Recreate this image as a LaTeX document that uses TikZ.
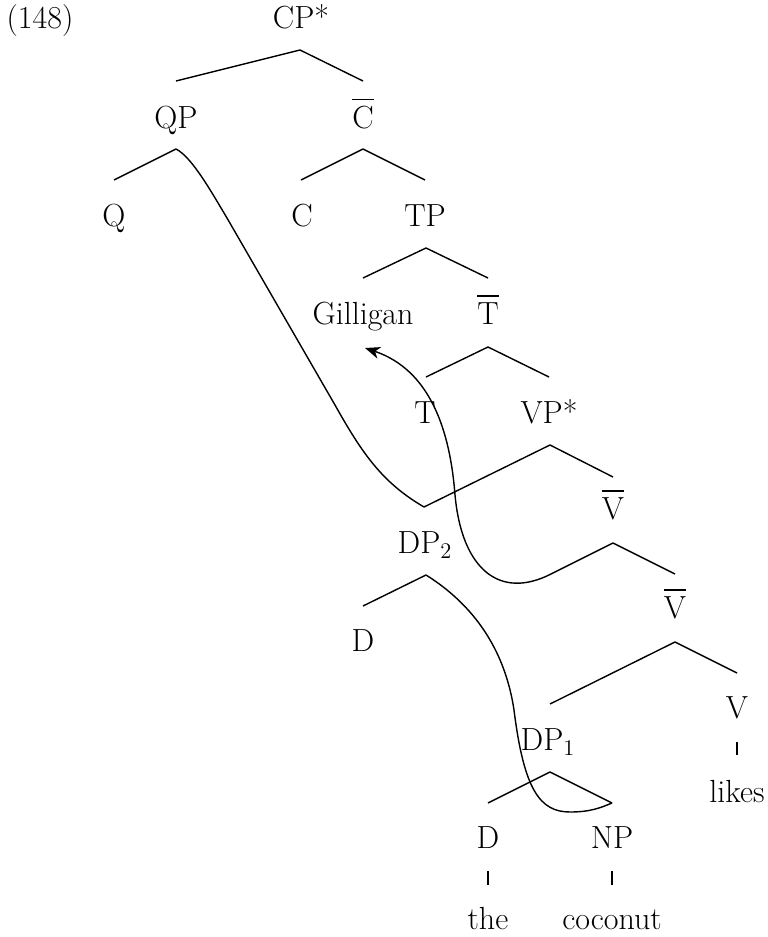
\documentclass[tikz,border=0pt]{standalone}
\usetikzlibrary{arrows.meta}
\newcommand{\treefont}{\fontsize{16}{18}\selectfont}
\newcommand{\barred}[1]{\leavevmode\vbox{\hrule height 0.9pt\kern 2.6pt\hbox{#1}}}
\begin{document}
\begin{tikzpicture}[x=0.5pt,y=-0.5pt,
  lbl/.style={anchor=base,inner sep=0pt,font=\treefont},
  branch/.style={line width=0.7pt,line join=round},
  move/.style={line width=0.7pt,line join=round,-{Stealth[length=7.5pt,width=6pt,inset=2.2pt]}}]
\useasboundingbox (0,0) rectangle (767,937);
% labels
\node[lbl] (ex) at (40,28) {(148)};
\node[lbl] (cp) at (301,28) {CP*};
\node[lbl] (qp) at (176,128) {QP};
\node[lbl] (cbar) at (363,128) {\barred{C}};
\node[lbl] (q) at (114,226) {Q};
\node[lbl] (c) at (302,226) {C};
\node[lbl] (tp) at (425,226) {TP};
\node[lbl] (gill) at (363,324) {Gilligan};
\node[lbl] (tbar) at (488,324) {\barred{T}};
\node[lbl] (t) at (425,423) {T};
\node[lbl] (vp) at (549,423) {VP*};
\node[lbl] (vbara) at (613,519) {\barred{V}};
\node[lbl] (dp2) at (425,553) {DP\textsubscript{2}};
\node[lbl] (da) at (363,651) {D};
\node[lbl] (vbarb) at (675,618) {\barred{V}};
\node[lbl] (v) at (737,718) {V};
\node[lbl] (dp1) at (548,750) {DP\textsubscript{1}};
\node[lbl] (likes) at (737,802) {likes};
\node[lbl] (db) at (488,848) {D};
\node[lbl] (np) at (612,848) {NP};
\node[lbl] (the) at (488,929) {the};
\node[lbl] (coconut) at (612,929) {coconut};
% branch points
\coordinate (cp-t) at (300,50);  \coordinate (cp-l) at (176,81);  \coordinate (cp-r) at (363,81);
\coordinate (qp-t) at (176,149); \coordinate (qp-l) at (114,180);
\coordinate (cb-t) at (363,149); \coordinate (cb-l) at (301,180); \coordinate (cb-r) at (425,180);
\coordinate (tp-t) at (426,248); \coordinate (tp-l) at (363,278); \coordinate (tp-r) at (488,278);
\coordinate (tb-t) at (488,347); \coordinate (tb-l) at (426,377); \coordinate (tb-r) at (549,377);
\coordinate (vp-t) at (550,445); \coordinate (vp-l) at (424,507); \coordinate (vp-r) at (613,477);
\coordinate (va-t) at (613,543); \coordinate (va-l) at (551,574); \coordinate (va-r) at (675,574);
\coordinate (d2-t) at (426,575); \coordinate (d2-l) at (363,606);
\coordinate (vb-t) at (675,642); \coordinate (vb-l) at (550,704); \coordinate (vb-r) at (737,673);
\coordinate (d1-t) at (550,772); \coordinate (d1-l) at (488,803); \coordinate (d1-r) at (612,803);
\coordinate (v-t) at (737,742);  \coordinate (v-b) at (737,755);
\coordinate (db-t) at (488,871); \coordinate (db-b) at (488,885);
\coordinate (np-t) at (612,871); \coordinate (np-b) at (612,885);
\coordinate (gill-arr) at (365,348);
% branches
\draw[branch] (cp-l) -- (cp-t) -- (cp-r);
\draw[branch] (qp-l) -- (qp-t);
\draw[branch] (cb-l) -- (cb-t) -- (cb-r);
\draw[branch] (tp-l) -- (tp-t) -- (tp-r);
\draw[branch] (tb-l) -- (tb-t) -- (tb-r);
\draw[branch] (vp-l) -- (vp-t) -- (vp-r);
\draw[branch] (va-t) -- (va-r);
\draw[branch] (d2-l) -- (d2-t);
\draw[branch] (vb-l) -- (vb-t) -- (vb-r);
\draw[branch] (d1-l) -- (d1-t) -- (d1-r);
\draw[branch] (v-t) -- (v-b);
\draw[branch] (db-t) -- (db-b);
\draw[branch] (np-t) -- (np-b);
% shared daughters
\draw[branch] (qp-t) .. controls (192,157) and (212,193) .. (227,218) -- (335,405)
  .. controls (363,455) and (383,483) .. (vp-l);
\draw[branch] (d2-t) .. controls (474,605) and (505,650) .. (514,710)
  .. controls (524,790) and (540,812) .. (570,812)
  .. controls (590,812) and (600,808) .. (d1-r);
% movement arrow
\draw[move] (va-t) -- (va-l) .. controls (500,600) and (462,570) .. (455,495)
  .. controls (450,430) and (430,370) .. (gill-arr);
\end{tikzpicture}
\end{document}
